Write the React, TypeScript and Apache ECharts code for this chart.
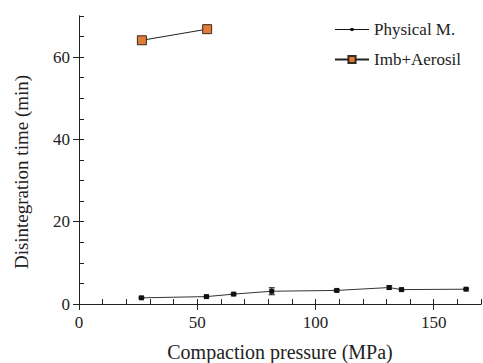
import React, { useEffect, useRef } from 'react';
import * as echarts from 'echarts';

const physicalX = [26.4, 53.9, 65.4, 81.5, 109.0, 131.2, 136.4, 163.7];
const physicalY = [1.5, 1.8, 2.4, 3.1, 3.3, 4.0, 3.5, 3.6];
const physicalErr = [0.2, 0.1, 0.2, 0.85, 0.2, 0.4, 0.1, 0.2];
const imbX = [26.6, 54.2];
const imbY = [64.1, 66.8];
const xMajorTicks = [0, 50, 100, 150];
const xMinorTicks = [0, 10, 20, 30, 40, 50, 60, 70, 80, 90, 100, 110, 120, 130, 140, 150, 160, 170];
const yMajorTicks = [0, 20, 40, 60];
const yMinorTicks = [0, 5, 10, 15, 20, 25, 30, 35, 40, 45, 50, 55, 60, 65, 70];

const FONT = '"Liberation Serif", "Times New Roman", serif';

export default function App() {
  const ref = useRef<HTMLDivElement>(null);
  useEffect(() => {
    document.body.style.margin = '0';
    if (!ref.current) return;
    const chart = echarts.init(ref.current, null, { renderer: 'svg' });
    const axisLine = { show: true, lineStyle: { color: '#222', width: 1 } };
    const grid = { left: 79, right: 2, top: 16, bottom: 59, outerBoundsMode: 'none', containLabel: false };
    chart.setOption({
      animation: false,
      backgroundColor: '#fff',
      grid: [grid],
      legend: {
        orient: 'vertical',
        left: 329,
        top: 16,
        itemWidth: 34,
        itemHeight: 9,
        itemGap: 13,
        textStyle: { fontFamily: FONT, fontSize: 17, color: '#222' },
        data: [
          { name: 'Physical M.', icon: 'path://M0,1h34v1h-34z M15.5,0h3v3h-3z' },
          'Imb+Aerosil',
        ],
      },
      xAxis: [
        {
          type: 'value', min: 0, max: 170,
          name: 'Compaction pressure (MPa)', nameLocation: 'middle', nameGap: 38,
          nameTextStyle: { fontFamily: FONT, fontSize: 20, color: '#222' },
          axisLine,
          axisTick: { show: true, inside: false, length: 6, customValues: xMajorTicks, lineStyle: { color: '#222' } },
          axisLabel: { margin: 10, customValues: xMajorTicks, fontFamily: FONT, fontSize: 17, color: '#222' },
          splitLine: { show: false },
        },
        {
          type: 'value', min: 0, max: 170, position: 'bottom',
          axisLine,
          axisTick: { show: true, inside: true, length: 5, customValues: xMinorTicks, lineStyle: { color: '#222' } },
          axisLabel: { show: false },
          splitLine: { show: false },
        },
      ],
      yAxis: [
        {
          type: 'value', min: 0, max: 70,
          name: 'Disintegration time (min)', nameLocation: 'middle', nameGap: 48, nameRotate: 90,
          nameTextStyle: { fontFamily: FONT, fontSize: 19, color: '#222', padding: [0, 24, 0, 0] },
          axisLine,
          axisTick: { show: true, inside: false, length: 6, customValues: yMajorTicks, lineStyle: { color: '#222' } },
          axisLabel: { margin: 9, customValues: yMajorTicks, fontFamily: FONT, fontSize: 17, color: '#222' },
          splitLine: { show: false },
        },
        {
          type: 'value', min: 0, max: 70, position: 'left',
          axisLine,
          axisTick: { show: true, inside: true, length: 5, customValues: yMinorTicks, lineStyle: { color: '#222' } },
          axisLabel: { show: false },
          splitLine: { show: false },
        },
      ],
      series: [
        {
          name: 'Physical M.',
          type: 'line',
          data: physicalX.map((x, i) => [x, physicalY[i]]),
          symbol: 'rect',
          symbolSize: 5,
          lineStyle: { color: '#333', width: 1 },
          itemStyle: { color: '#111' },
          z: 3,
        },
        {
          name: 'PhysErr',
          type: 'custom',
          data: physicalX.map((x, i) => [x, physicalY[i], physicalErr[i]]),
          renderItem: (params: any, api: any) => {
            const x = api.value(0);
            const y = api.value(1);
            const e = api.value(2);
            const top = api.coord([x, y + e]);
            const bot = api.coord([x, y - e]);
            const hw = 3;
            const style = { stroke: '#111', lineWidth: 1 };
            return {
              type: 'group',
              children: [
                { type: 'line', shape: { x1: top[0], y1: top[1], x2: bot[0], y2: bot[1] }, style },
                { type: 'line', shape: { x1: top[0] - hw, y1: top[1], x2: top[0] + hw, y2: top[1] }, style },
                { type: 'line', shape: { x1: bot[0] - hw, y1: bot[1], x2: bot[0] + hw, y2: bot[1] }, style },
              ],
            };
          },
          z: 2,
        },
        {
          name: 'Imb+Aerosil',
          type: 'line',
          data: imbX.map((x, i) => [x, imbY[i]]),
          symbol: 'rect',
          symbolSize: 9,
          lineStyle: { color: '#222', width: 1 },
          itemStyle: { color: '#E07B39', borderColor: '#3a2a20', borderWidth: 1 },
          z: 3,
        },
      ],
    });
    return () => chart.dispose();
  }, []);
  return <div ref={ref} style={{ width: 483, height: 363 }} />;
}
